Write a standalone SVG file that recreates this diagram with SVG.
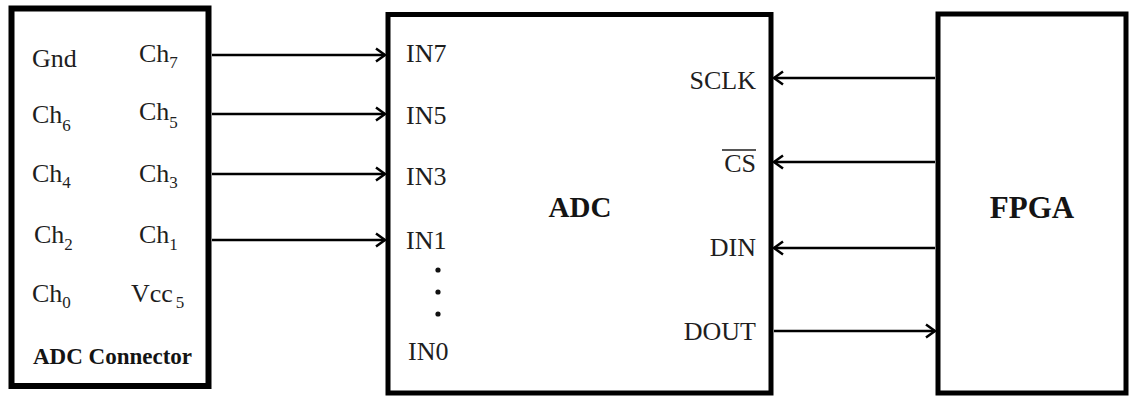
<svg xmlns="http://www.w3.org/2000/svg" width="1129" height="396" viewBox="0 0 1129 396">
<defs>
<style>
.box{fill:#fff;stroke:#000;stroke-width:5}
.t{font-family:"Liberation Serif","Times New Roman",serif;font-size:26px;fill:#1e1e1e}
.b{font-family:"Liberation Serif","Times New Roman",serif;font-weight:bold;fill:#141414}
.s{font-size:17px}
.w{stroke:#000;stroke-width:2.5;fill:none}
</style>
<marker id="ah" markerUnits="userSpaceOnUse" markerWidth="14" markerHeight="16" refX="11" refY="8" orient="auto">
<path d="M2,1.5 L11,8 L2,14.5" fill="none" stroke="#000" stroke-width="2.5"/>
</marker>
</defs>
<rect width="1129" height="396" fill="#fff"/>
<g id="adc-connector">
<rect class="box" x="11.5" y="8.5" width="197" height="377.5" style="stroke-width:6"/>
<text class="t" x="32" y="67">Gnd</text>
<text class="t" x="139" y="62">Ch<tspan class="s" dy="6">7</tspan></text>
<text class="t" x="32" y="123">Ch<tspan class="s" dy="8">6</tspan></text>
<text class="t" x="139" y="120">Ch<tspan class="s" dy="8">5</tspan></text>
<text class="t" x="32" y="182">Ch<tspan class="s" dy="6">4</tspan></text>
<text class="t" x="139" y="182">Ch<tspan class="s" dy="6">3</tspan></text>
<text class="t" x="34" y="243">Ch<tspan class="s" dy="7">2</tspan></text>
<text class="t" x="139" y="243">Ch<tspan class="s" dy="7">1</tspan></text>
<text class="t" x="32" y="302">Ch<tspan class="s" dy="6">0</tspan></text>
<text class="t" x="131" y="302">Vcc<tspan class="s" dx="3" dy="6">5</tspan></text>
<text class="b" x="33" y="364" font-size="23">ADC Connector</text>
</g>
<g id="adc">
<rect class="box" x="388" y="14.5" width="383" height="378.5"/>
<text class="t" x="406" y="62">IN7</text>
<text class="t" x="406" y="124">IN5</text>
<text class="t" x="406" y="185">IN3</text>
<text class="t" x="406" y="249">IN1</text>
<circle cx="438" cy="270" r="2.6" fill="#111"/>
<circle cx="438" cy="292" r="2.6" fill="#111"/>
<circle cx="438" cy="314" r="2.6" fill="#111"/>
<text class="t" x="408" y="360">IN0</text>
<text class="b" x="580" y="217" font-size="29" text-anchor="middle">ADC</text>
<text class="t" x="756" y="89" text-anchor="end">SCLK</text>
<text class="t" x="756" y="172" text-anchor="end">CS</text>
<line x1="722" y1="150" x2="756" y2="150" stroke="#1e1e1e" stroke-width="1.6"/>
<text class="t" x="756" y="256" text-anchor="end">DIN</text>
<text class="t" x="756" y="340" text-anchor="end">DOUT</text>
</g>
<g id="fpga">
<rect class="box" x="938" y="14" width="188" height="379"/>
<text class="b" x="1032" y="218" font-size="31" text-anchor="middle">FPGA</text>
</g>
<g id="connectors">
<line class="w" x1="212" y1="55" x2="385" y2="55" marker-end="url(#ah)"/>
<line class="w" x1="212" y1="114" x2="385" y2="114" marker-end="url(#ah)"/>
<line class="w" x1="212" y1="174" x2="385" y2="174" marker-end="url(#ah)"/>
<line class="w" x1="212" y1="240" x2="385" y2="240" marker-end="url(#ah)"/>
<line class="w" x1="935" y1="78" x2="774" y2="78" marker-end="url(#ah)"/>
<line class="w" x1="935" y1="162" x2="774" y2="162" marker-end="url(#ah)"/>
<line class="w" x1="935" y1="248" x2="774" y2="248" marker-end="url(#ah)"/>
<line class="w" x1="774" y1="331" x2="935" y2="331" marker-end="url(#ah)"/>
</g>
</svg>
